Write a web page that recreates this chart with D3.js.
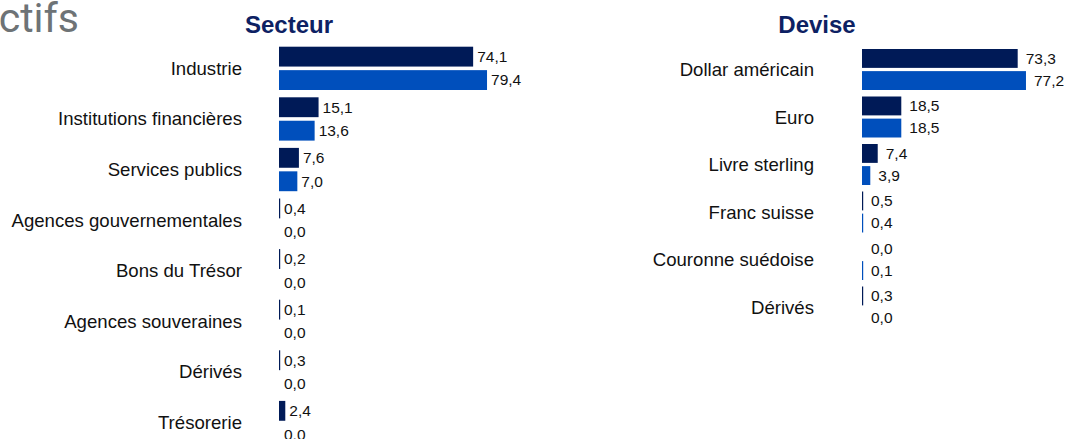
<!DOCTYPE html>
<html>
<head>
<meta charset="utf-8">
<script src="https://cdn.jsdelivr.net/npm/d3@7"></script>
<style>
  body { margin: 0; background: #fff; overflow: hidden; }
  svg { display: block; font-family: "Liberation Sans", Arial, sans-serif; }
</style>
</head>
<body>
<svg id="chart" width="1066" height="439"></svg>
<script>
// Données (en %)
const secteurs = ["Industrie", "Institutions financières", "Services publics", "Agences gouvernementales",
  "Bons du Trésor", "Agences souveraines", "Dérivés", "Trésorerie"];
const secteurSerieA = [74.1, 15.1, 7.6, 0.4, 0.2, 0.1, 0.3, 2.4];
const secteurSerieB = [79.4, 13.6, 7.0, 0.0, 0.0, 0.0, 0.0, 0.0];

const devises = ["Dollar américain", "Euro", "Livre sterling", "Franc suisse", "Couronne suédoise", "Dérivés"];
const deviseSerieA = [73.3, 18.5, 7.4, 0.5, 0.0, 0.3];
const deviseSerieB = [77.2, 18.5, 3.9, 0.4, 0.1, 0.0];

const colors = ["#001a57", "#004fbc"];
const fmt = v => d3.format(".1f")(v).replace(".", ",");

const svg = d3.select("#chart");

// titre coupé à gauche
svg.append("text")
  .attr("x", 79).attr("y", 32)
  .attr("text-anchor", "end")
  .style("font-family", "Roboto, Arial, sans-serif")
  .style("font-size", "41px")
  .style("fill", "#6e7376")
  .text("ctifs");

function panel(cfg) {
  const g = svg.append("g");
  const n = cfg.cats.length;

  const x = d3.scaleLinear().domain([0, 100]).range([cfg.x0, cfg.x0 + cfg.pxPerUnit * 100]);
  const y = d3.scaleBand().domain(cfg.cats).range([cfg.top, cfg.top + n * cfg.step]);
  const sub = d3.scaleBand().domain([0, 1]).range([0, cfg.inner]).paddingInner(cfg.gap / (cfg.inner / 2));

  const rows = cfg.cats.map((c, i) => ({ cat: c, vals: [cfg.a[i], cfg.b[i]] }));

  g.append("text")
    .attr("x", cfg.titleX).attr("y", 33)
    .attr("text-anchor", "middle")
    .style("font-size", "24px")
    .style("font-weight", "bold")
    .style("fill", "#0d2163")
    .text(cfg.title);

  const row = g.selectAll(".row")
    .data(rows)
    .enter().append("g")
    .attr("transform", d => `translate(0,${y(d.cat)})`);

  row.append("text")
    .attr("x", cfg.labelX)
    .attr("y", cfg.inner / 2)
    .attr("dy", "0.35em")
    .attr("text-anchor", "end")
    .style("font-size", "18.6px")
    .style("fill", "#111")
    .text(d => d.cat);

  const bar = row.selectAll(".bar")
    .data(d => d.vals.map((v, k) => ({ v, k })))
    .enter();

  bar.filter(d => d.v > 0).append("rect")
    .attr("x", x(0))
    .attr("y", d => sub(d.k))
    .attr("height", sub.bandwidth())
    .attr("width", d => Math.max(1.2, x(d.v) - x(0)))
    .attr("fill", d => colors[d.k]);

  bar.append("text")
    .attr("x", d => Math.max(x(d.v), x(0) + 1) + cfg.labelGap)
    .attr("y", d => sub(d.k) + sub.bandwidth() / 2)
    .attr("dy", "0.35em")
    .style("font-size", "15.5px")
    .style("fill", "#111")
    .text(d => fmt(d.v));
}

panel({
  title: "Secteur", titleX: 289,
  cats: secteurs, a: secteurSerieA, b: secteurSerieB,
  x0: 279, pxPerUnit: 2.62, top: 46.7, step: 50.6, inner: 43.3, gap: 3.3,
  labelX: 242, labelGap: 4
});

panel({
  title: "Devise", titleX: 817,
  cats: devises, a: deviseSerieA, b: deviseSerieB,
  x0: 862, pxPerUnit: 2.124, top: 49, step: 47.5, inner: 41, gap: 3,
  labelX: 814, labelGap: 8
});
</script>
</body>
</html>
